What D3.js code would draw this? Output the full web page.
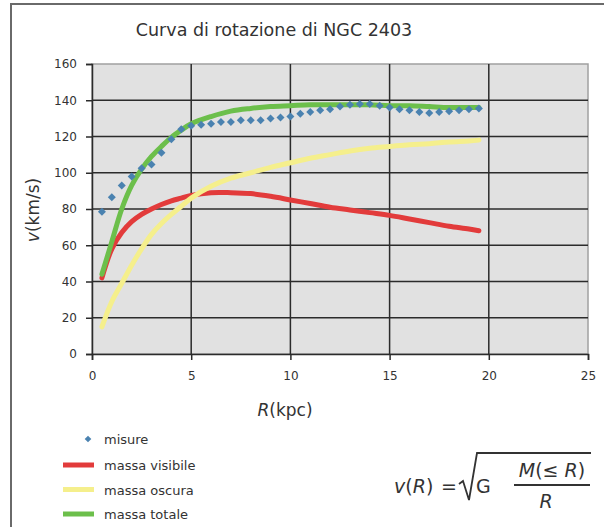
<!DOCTYPE html>
<html>
<head>
<meta charset="utf-8">
<script src="https://cdn.jsdelivr.net/npm/d3@7"></script>
<style>
  body { margin: 0; background: #fff; }
  svg { display: block; font-family: "DejaVu Sans", sans-serif; }
</style>
</head>
<body>
<svg class="svg"></svg>
<script>
// measured points (R in kpc, v in km/s)
const misureR = [0.5,1,1.5,2,2.5,3,3.5,4,4.5,5,5.5,6,6.5,7,7.5,8,8.5,9,9.5,10,10.5,11,11.5,12,12.5,13,13.5,14,14.5,15,15.5,16,16.5,17,17.5,18,18.5,19,19.5];
const misureV = [78.5,86.5,93,98,102.5,104.5,111,118.5,124,126,126.5,127,128,128,129,129,129,130,130.5,131,132.5,133.5,134.5,135,136.5,137.5,138,138,137,136,135,134.5,133.5,133,133.5,134,134.5,135,135.5];

// model curves
const curveR = [0.5,1,1.5,2,2.5,3,3.5,4,4.5,5,6,7,8,9,10,11,12,13,14,15,16,17,18,19,19.5];
const visibileV = [42,58,67,73,77,80,82.5,84.5,86,87.5,89,89,88.5,87,85,83,81,79.5,78,76.5,74.5,72.5,70.5,69,68];
const oscuraV = [15,29,39,49,58,66,72,77,81.5,86,92.5,97,100,103,105.5,108,110,112,113.5,114.5,115.5,116,117,117.5,118];
const totaleV = [44,62,80,93,102,109,114.5,119.5,123.5,127,131,134,135.5,136.5,137,137.5,137.5,137.5,137.5,137,137,136.5,136,136,136];

const xTicks = [0,5,10,15,20,25];
const yTicks = [0,20,40,60,80,100,120,140,160];

const series = [
  { name: "massa visibile", values: visibileV, color: "#e23b3b" },
  { name: "massa oscura", values: oscuraV, color: "#f5ef8c" },
  { name: "massa totale", values: totaleV, color: "#6cbf4b" }
];

const width = 604, height = 527;
const svg = d3.select(".svg").attr("width", width).attr("height", height);

// outer frame
svg.append("path")
  .attr("d", `M11,${height} L11,4 L${width},4`)
  .attr("fill", "none").attr("stroke", "#6a6a6a").attr("stroke-width", 2);

svg.append("text")
  .attr("x", 274).attr("y", 36)
  .attr("text-anchor", "middle")
  .attr("font-size", 17.5).attr("fill", "#333")
  .text("Curva di rotazione di NGC 2403");

const x = d3.scaleLinear().domain([0, 25]).range([92, 588]);
const y = d3.scaleLinear().domain([0, 160]).range([354, 64]);

// plot background
svg.append("rect")
  .attr("x", x(0)).attr("y", y(160))
  .attr("width", x(25) - x(0)).attr("height", y(0) - y(160))
  .attr("fill", "#e1e1e1").attr("stroke", "#a0a0a0").attr("stroke-width", 1.5);

// grid
svg.append("g").selectAll("line")
  .data(yTicks.filter(d => d > 0 && d < 160))
  .join("line")
  .attr("x1", x(0)).attr("x2", x(25))
  .attr("y1", d => y(d)).attr("y2", d => y(d))
  .attr("stroke", "#2b2b2b").attr("stroke-width", 1.5);

svg.append("g").selectAll("line")
  .data(xTicks.filter(d => d > 0 && d < 25))
  .join("line")
  .attr("x1", d => x(d)).attr("x2", d => x(d))
  .attr("y1", y(0)).attr("y2", y(160))
  .attr("stroke", "#2b2b2b").attr("stroke-width", 1.5);

// axes
const xAxis = svg.append("g")
  .attr("transform", `translate(0,${y(0)})`)
  .call(d3.axisBottom(x).tickValues(xTicks).tickSize(6).tickPadding(11));
const yAxis = svg.append("g")
  .attr("transform", `translate(${x(0)},0)`)
  .call(d3.axisLeft(y).tickValues(yTicks).tickSize(6).tickPadding(9));

[xAxis, yAxis].forEach(a => {
  a.select(".domain").attr("stroke", "#2b2b2b").attr("stroke-width", 1.5);
  a.selectAll(".tick line").attr("stroke", "#2b2b2b").attr("stroke-width", 1.5);
  a.selectAll(".tick text").attr("font-size", 12).attr("fill", "#333")
    .attr("font-family", "'DejaVu Sans', sans-serif");
});

// axis titles
const yt = svg.append("text")
  .attr("transform", "translate(39,210) rotate(-90)")
  .attr("text-anchor", "middle").attr("font-size", 17).attr("fill", "#333");
yt.append("tspan").attr("font-style", "italic").text("v");
yt.append("tspan").text("(km/s)");

const xt = svg.append("text")
  .attr("x", 285).attr("y", 416)
  .attr("text-anchor", "middle").attr("font-size", 17).attr("fill", "#333");
xt.append("tspan").attr("font-style", "italic").text("R");
xt.append("tspan").text("(kpc)");

// curves
const line = d3.line()
  .x((d, i) => x(curveR[i]))
  .y(d => y(d))
  .curve(d3.curveCatmullRom);

svg.append("g").selectAll("path")
  .data(series)
  .join("path")
  .attr("d", d => line(d.values))
  .attr("fill", "none")
  .attr("stroke", d => d.color)
  .attr("stroke-width", 5)
  .attr("stroke-linecap", "round");

// measured points
const diamond = d3.symbol().type(d3.symbolSquare).size(32);
svg.append("g").selectAll("path")
  .data(misureV)
  .join("path")
  .attr("d", diamond)
  .attr("transform", (d, i) => `translate(${x(misureR[i])},${y(d)}) rotate(45)`)
  .attr("fill", "#4a82b0");

// legend
const legend = svg.append("g").attr("font-size", 13).attr("fill", "#333");
legend.append("path")
  .attr("d", d3.symbol().type(d3.symbolSquare).size(22))
  .attr("transform", "translate(88,439) rotate(45)")
  .attr("fill", "#4a82b0");
legend.append("text").attr("x", 104).attr("y", 444).text("misure");

series.forEach((s, i) => {
  const ly = 465 + i * 24.5;
  legend.append("line")
    .attr("x1", 63).attr("x2", 94)
    .attr("y1", ly).attr("y2", ly)
    .attr("stroke", s.color).attr("stroke-width", 5);
  legend.append("text").attr("x", 104).attr("y", ly + 5).text(s.name);
});

// formula
const f = svg.append("g").attr("fill", "#333").attr("font-size", 19);
const lhs = f.append("text").attr("x", 394).attr("y", 493);
lhs.append("tspan").attr("font-style", "italic").text("v");
lhs.append("tspan").text("(");
lhs.append("tspan").attr("font-style", "italic").text("R");
lhs.append("tspan").text(")");
f.append("text").attr("x", 441).attr("y", 493).text("=");
f.append("path")
  .attr("d", "M459,484 L463,481 L469,500 L477,453 L591,453")
  .attr("fill", "none").attr("stroke", "#333").attr("stroke-width", 1.8);
f.append("text").attr("x", 476).attr("y", 493).text("G");
f.append("line")
  .attr("x1", 514).attr("x2", 590).attr("y1", 485).attr("y2", 485)
  .attr("stroke", "#333").attr("stroke-width", 1.8);
const num = f.append("text").attr("x", 552).attr("y", 477).attr("text-anchor", "middle");
num.append("tspan").attr("font-style", "italic").text("M");
num.append("tspan").text("(≤ ");
num.append("tspan").attr("font-style", "italic").text("R");
num.append("tspan").text(")");
f.append("text").attr("x", 546).attr("y", 508).attr("text-anchor", "middle")
  .attr("font-style", "italic").text("R");
</script>
</body>
</html>
